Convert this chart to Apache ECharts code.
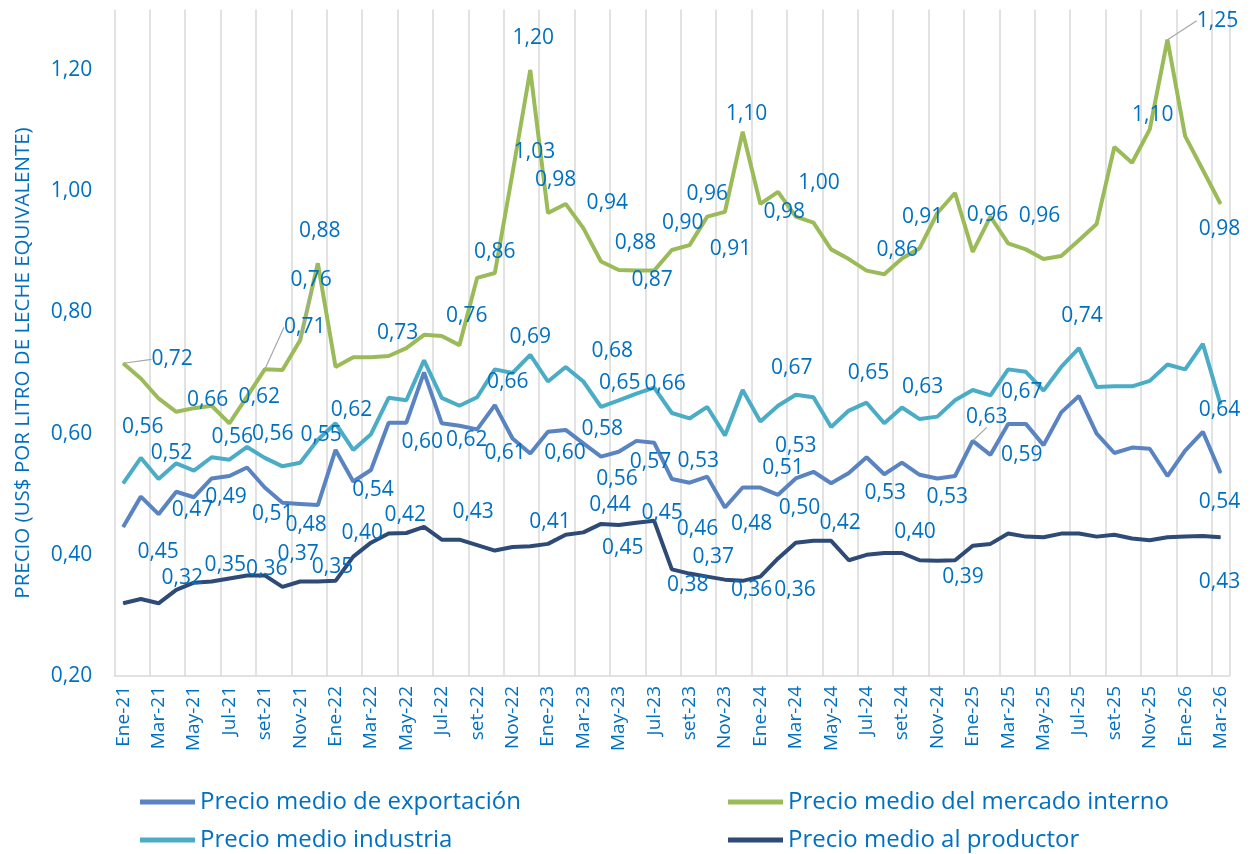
<!DOCTYPE html>
<html>
<head>
<meta charset="utf-8">
<script src="https://cdn.jsdelivr.net/npm/echarts@6/dist/echarts.min.js"></script>
<style>
  html, body { margin: 0; padding: 0; background: #fff; }
  #chart { width: 1253px; height: 854px; }
</style>
</head>
<body>
<div id="chart"></div>
<script>
// meses (eje de categorías)
const months = [
  'Ene-21','Feb-21','Mar-21','Abr-21','May-21','Jun-21','Jul-21','Ago-21','set-21','Oct-21','Nov-21','Dic-21',
  'Ene-22','Feb-22','Mar-22','Abr-22','May-22','Jun-22','Jul-22','Ago-22','set-22','Oct-22','Nov-22','Dic-22',
  'Ene-23','Feb-23','Mar-23','Abr-23','May-23','Jun-23','Jul-23','Ago-23','set-23','Oct-23','Nov-23','Dic-23',
  'Ene-24','Feb-24','Mar-24','Abr-24','May-24','Jun-24','Jul-24','Ago-24','set-24','Oct-24','Nov-24','Dic-24',
  'Ene-25','Feb-25','Mar-25','Abr-25','May-25','Jun-25','Jul-25','Ago-25','set-25','Oct-25','Nov-25','Dic-25',
  'Ene-26','Feb-26','Mar-26'
];

const exportacion = [
  0.446,0.496,0.467,0.504,0.495,0.526,0.530,0.544,0.511,0.486,
  0.484,0.482,0.573,0.521,0.540,0.618,0.618,0.701,0.617,0.613,
  0.607,0.647,0.592,0.567,0.603,0.606,0.584,0.562,0.570,0.588,
  0.585,0.525,0.519,0.529,0.478,0.511,0.511,0.499,0.526,0.537,
  0.518,0.535,0.561,0.533,0.552,0.532,0.526,0.530,0.588,0.565,
  0.616,0.616,0.581,0.635,0.662,0.600,0.568,0.577,0.575,0.530,
  0.572,0.603,0.535
];
const mercadoInterno = [
  0.716,0.691,0.658,0.636,0.642,0.646,0.617,0.661,0.706,0.705,
  0.754,0.881,0.710,0.726,0.726,0.728,0.741,0.763,0.761,0.746,
  0.857,0.865,1.030,1.200,0.964,0.979,0.939,0.884,0.870,0.869,
  0.869,0.903,0.911,0.958,0.966,1.098,0.979,0.999,0.958,0.948,
  0.904,0.888,0.869,0.863,0.889,0.906,0.964,0.997,0.900,0.958,
  0.914,0.904,0.888,0.893,0.919,0.946,1.073,1.047,1.102,1.250,
  1.091,1.035,0.979
];
const industria = [
  0.518,0.560,0.525,0.551,0.539,0.561,0.557,0.578,0.560,0.546,
  0.552,0.590,0.617,0.573,0.599,0.659,0.655,0.721,0.659,0.646,
  0.660,0.706,0.700,0.730,0.686,0.710,0.686,0.644,0.655,0.666,
  0.676,0.634,0.625,0.644,0.597,0.672,0.620,0.646,0.664,0.660,
  0.611,0.638,0.651,0.617,0.643,0.624,0.628,0.655,0.672,0.663,
  0.706,0.702,0.671,0.710,0.741,0.677,0.678,0.678,0.687,0.714,
  0.706,0.748,0.648
];
const productor = [
  0.320,0.327,0.320,0.342,0.354,0.356,0.361,0.366,0.366,0.347,
  0.356,0.356,0.357,0.397,0.420,0.435,0.436,0.446,0.425,0.425,
  0.416,0.407,0.413,0.414,0.418,0.433,0.437,0.451,0.449,0.453,
  0.456,0.376,0.369,0.364,0.359,0.357,0.364,0.394,0.420,0.423,
  0.423,0.391,0.400,0.403,0.403,0.391,0.390,0.391,0.415,0.418,
  0.435,0.430,0.429,0.435,0.435,0.430,0.433,0.427,0.424,0.429,
  0.430,0.431,0.429
];

// etiquetas de datos: [índice del mes, valor mostrado]
const exportacionLabels = [
  [0,0.45],[2,0.47],[4,0.49],[8,0.51],[10,0.48],[14,0.54],[16,0.60],[18,0.62],
  [20,0.61],[24,0.60],[26,0.58],[27,0.56],[29,0.57],[32,0.46],[33,0.53],[35,0.48],
  [37,0.51],[38,0.53],[39,0.50],[43,0.53],[46,0.53],[48,0.63],[51,0.59],[62,0.54]
];
const mercadoInternoLabels = [
  [0,0.72],[5,0.66],[6,0.62],[8,0.71],[10,0.76],[11,0.88],[15,0.73],[18,0.76],
  [21,0.86],[22,1.03],[23,1.20],[25,0.98],[26,0.94],[29,0.88],[30,0.87],[31,0.90],
  [32,0.91],[33,0.96],[35,1.10],[36,0.98],[37,1.00],[43,0.86],[45,0.91],[49,0.96],
  [52,0.96],[58,1.10],[59,1.25],[62,0.98]
];
const industriaLabels = [
  [1,0.56],[2,0.52],[6,0.56],[8,0.56],[10,0.55],[12,0.62],[21,0.66],[23,0.69],
  [26,0.68],[28,0.65],[30,0.66],[38,0.67],[42,0.65],[45,0.63],[51,0.67],[54,0.74],
  [62,0.64]
];
const productorLabels = [
  [3,0.32],[6,0.35],[8,0.36],[10,0.37],[12,0.35],[13,0.40],[16,0.42],[20,0.43],
  [24,0.41],[27,0.44],[28,0.45],[30,0.45],[31,0.38],[33,0.37],[35,0.36],[37,0.36],
  [40,0.42],[44,0.40],[47,0.39],[62,0.43]
];

// desplazamiento (px) de cada etiqueta respecto de su punto
const exportacionShift = [
  [35,25],[34,-4],[32,0],[8,26],[6,21],[2,20],[16,19],[25,17],
  [28,24],[17,21],[19,-14],[16,22],[14,21],[8,46],[-9,-16],[9,36],
  [5,-27],[0,-32],[-14,36],[1,19],[10,19],[14,-24],[-4,31],[-1,29]
];
const mercadoInternoShift = [
  [49,-4],[-4,-6],[30,-26],[40,-42],[11,-60],[2,-32],[9,-23],[25,-20],
  [0,-21],[22,-21],[3,-32],[-10,-24],[24,-25],[-1,-28],[-2,9],[11,-27],
  [41,4],[0,-23],[4,-18],[24,8],[41,-9],[13,-24],[3,-31],[-3,-2],
  [-4,-43],[3,-14],[50,-19],[-1,25]
];
const industriaShift = [
  [2,-31],[13,-26],[3,-23],[8,-24],[21,-28],[16,-13],[13,13],[0,-18],
  [29,-30],[1,-17],[11,-4],[-4,-27],[2,-30],[3,-32],[-4,20],[3,-32],
  [-1,6]
];
const productorShift = [
  [6,-12],[-4,-13],[2,-6],[-2,-27],[-3,-14],[9,-24],[-1,-18],[-4,-33],
  [2,-22],[9,-19],[4,23],[8,-8],[16,16],[6,-20],[9,9],[17,32],
  [9,-18],[13,-21],[8,17],[-1,45]
];

// etiquetas con línea guía (índices)
const exportacionLeaders = [48];
const mercadoInternoLeaders = [0, 8, 10, 59];

const TEXT_COLOR = '#0070c0';
const FONT = "'Open Sans', sans-serif";
const GRID_COLOR = '#d9d9d9';

function fmt (v) {
  return v.toFixed(2).replace('.', ',');
}

function buildData (values, labels, leaders) {
  const data = values.map(v => ({ value: v }));
  labels.forEach(item => {
    const idx = item[0];
    data[idx].label = { show: true, formatter: fmt(item[1]) };
    if (leaders.indexOf(idx) >= 0) {
      data[idx].labelLine = { show: true, lineStyle: { color: '#a6a6a6', width: 1.2 } };
    }
  });
  return data;
}

function lineSeries (name, color, values, labels, shifts, leaders, z) {
  const shiftOf = {};
  labels.forEach((item, k) => { shiftOf[item[0]] = shifts[k]; });
  return {
    name: name,
    type: 'line',
    z: z,
    data: buildData(values, labels, leaders),
    symbol: 'circle',
    symbolSize: 1,
    showAllSymbol: true,
    lineStyle: { color: color, width: 4 },
    itemStyle: { color: color },
    label: {
      show: false,
      position: 'inside',
      color: TEXT_COLOR,
      fontSize: 21,
      fontFamily: FONT
    },
    labelLine: { show: false },
    labelLayout: function (params) {
      const s = shiftOf[params.dataIndex];
      return s ? { dx: s[0], dy: s[1] } : {};
    },
    emphasis: { disabled: true }
  };
}

const legendBase = {
  icon: 'rect',
  itemWidth: 55,
  itemHeight: 5,
  selectedMode: false,
  textStyle: { color: TEXT_COLOR, fontSize: 24, fontFamily: FONT }
};

const chart = echarts.init(document.getElementById('chart'));
chart.setOption({
  animation: false,
  backgroundColor: '#fff',
  grid: { left: 114.3, right: 23.6, top: 9.4, bottom: 178, containLabel: false, outerBoundsMode: 'none' },
  legend: [
    Object.assign({ data: ['Precio medio de exportación'], left: 135, top: 785 }, legendBase),
    Object.assign({ data: ['Precio medio del mercado interno'], left: 723, top: 785 }, legendBase),
    Object.assign({ data: ['Precio medio industria'], left: 135, top: 823 }, legendBase),
    Object.assign({ data: ['Precio medio al productor'], left: 723, top: 823 }, legendBase)
  ],
  xAxis: {
    type: 'category',
    data: months,
    boundaryGap: true,
    axisLine: { lineStyle: { color: GRID_COLOR, width: 1.5 } },
    axisTick: { show: false },
    axisLabel: {
      interval: 1,
      rotate: 90,
      margin: 10,
      color: TEXT_COLOR,
      fontSize: 19,
      fontFamily: FONT
    },
    splitLine: { show: true, interval: 1, lineStyle: { color: GRID_COLOR, width: 1.5 } }
  },
  yAxis: {
    type: 'value',
    min: 0.2,
    max: 1.3,
    interval: 0.2,
    axisLine: { show: false },
    axisTick: { show: false },
    splitLine: { show: false },
    axisLabel: {
      showMaxLabel: false,
      margin: 22,
      color: TEXT_COLOR,
      fontSize: 21,
      fontFamily: FONT,
      formatter: v => fmt(v)
    }
  },
  graphic: [{
    type: 'text',
    x: 23,
    y: 363,
    rotation: Math.PI / 2,
    style: {
      text: 'PRECIO (US$ POR LITRO DE LECHE EQUIVALENTE)',
      fill: TEXT_COLOR,
      font: "20.5px 'Open Sans', sans-serif",
      align: 'center',
      verticalAlign: 'middle'
    }
  }],
  series: [
    lineSeries('Precio medio de exportación', '#5a83c2', exportacion, exportacionLabels, exportacionShift, exportacionLeaders, 4),
    lineSeries('Precio medio del mercado interno', '#9bbb59', mercadoInterno, mercadoInternoLabels, mercadoInternoShift, mercadoInternoLeaders, 3),
    lineSeries('Precio medio industria', '#4bacc6', industria, industriaLabels, industriaShift, [], 3),
    lineSeries('Precio medio al productor', '#2e4a76', productor, productorLabels, productorShift, [], 2)
  ]
});
</script>
</body>
</html>
